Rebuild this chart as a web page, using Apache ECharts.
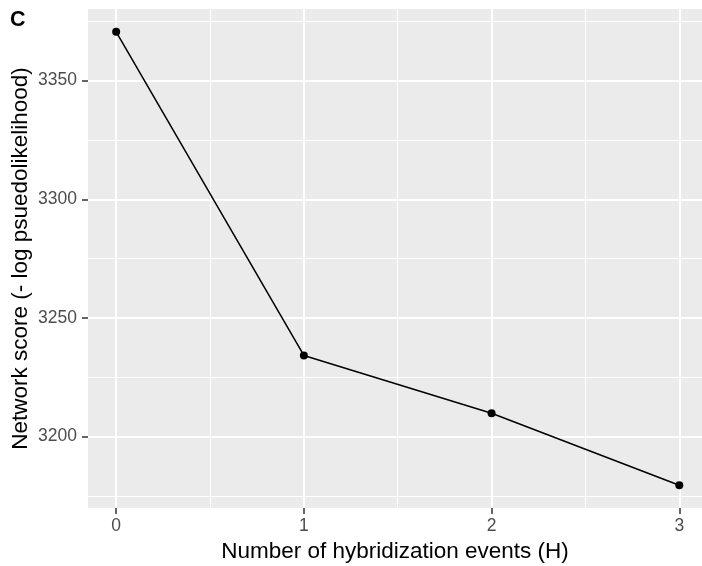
<!DOCTYPE html>
<html>
<head>
<meta charset="utf-8">
<script src="https://cdn.jsdelivr.net/npm/echarts@6/dist/echarts.min.js"></script>
<style>
  html, body { margin: 0; padding: 0; background: #fff; }
  #main { width: 702px; height: 566px; }
</style>
</head>
<body>
<div id="main"></div>
<script>
// data
var hybridEvents = [0, 1, 2, 3];
var networkScore = [3370.6, 3234.2, 3209.8, 3179.5];
var yMajorTicks = [3200, 3250, 3300, 3350];
var yMinorTicks = [3175, 3225, 3275, 3325, 3375];
var xMajorTicks = [0, 1, 2, 3];
var xMinorTicks = [0.5, 1.5, 2.5];

var font = '"Liberation Sans", Arial, sans-serif';
var chart = echarts.init(document.getElementById('main'), null, { renderer: 'canvas' });

var option = {
  animation: false,
  backgroundColor: '#ffffff',
  grid: {
    left: 88, right: 0, top: 9, bottom: 58,
    backgroundColor: '#EBEBEB', show: true, borderWidth: 0,
    containLabel: false, outerBoundsMode: 'none'
  },
  xAxis: [{
    type: 'value', min: -0.15, max: 3.121,
    name: 'Number of hybridization events (H)',
    nameLocation: 'middle', nameGap: 32, nameMoveOverlap: false,
    nameTextStyle: { fontFamily: font, fontSize: 22.5, color: '#000' },
    axisLine: { show: false, onZero: false },
    axisTick: { show: true, length: 6, lineStyle: { color: '#333', width: 1.5 }, customValues: xMajorTicks },
    axisLabel: { fontFamily: font, fontSize: 17.5, color: '#4D4D4D', margin: 9, customValues: xMajorTicks },
    splitLine: { show: true, lineStyle: { color: '#fff', width: 2 } }
  }, {
    type: 'value', min: -0.15, max: 3.121, position: 'top',
    axisLine: { show: false, onZero: false },
    axisTick: { show: false, customValues: xMinorTicks },
    axisLabel: { show: false, customValues: xMinorTicks },
    splitLine: { show: true, lineStyle: { color: '#fff', width: 1 } }
  }],
  yAxis: [{
    type: 'value', min: 3169.9, max: 3380.2,
    name: 'Network score (- log psuedolikelihood)',
    nameLocation: 'middle', nameGap: 56, nameRotate: 90, nameMoveOverlap: false,
    nameTextStyle: { fontFamily: font, fontSize: 22.5, color: '#000' },
    axisLine: { show: false, onZero: false },
    axisTick: { show: true, length: 6, lineStyle: { color: '#333', width: 1.5 }, customValues: yMajorTicks },
    axisLabel: {
      fontFamily: font, fontSize: 17.5, color: '#4D4D4D', margin: 11, customValues: yMajorTicks,
      formatter: function (v) { return String(v); }
    },
    splitLine: { show: true, lineStyle: { color: '#fff', width: 2 } }
  }, {
    type: 'value', min: 3169.9, max: 3380.2, position: 'right',
    axisLine: { show: false, onZero: false },
    axisTick: { show: false, customValues: yMinorTicks },
    axisLabel: { show: false, customValues: yMinorTicks },
    splitLine: { show: true, lineStyle: { color: '#fff', width: 1 } }
  }],
  series: [{
    type: 'line',
    data: hybridEvents.map(function (h, i) { return [h, networkScore[i]]; }),
    symbol: 'circle', symbolSize: 8,
    itemStyle: { color: '#000' },
    lineStyle: { color: '#000', width: 1.5 },
    z: 5
  }],
  graphic: [{
    type: 'text', left: 10, top: 9,
    style: { text: 'C', font: 'bold 21.5px ' + font, fill: '#000' }
  }]
};

chart.setOption(option);
window.addEventListener('resize', chart.resize);
</script>
</body>
</html>
